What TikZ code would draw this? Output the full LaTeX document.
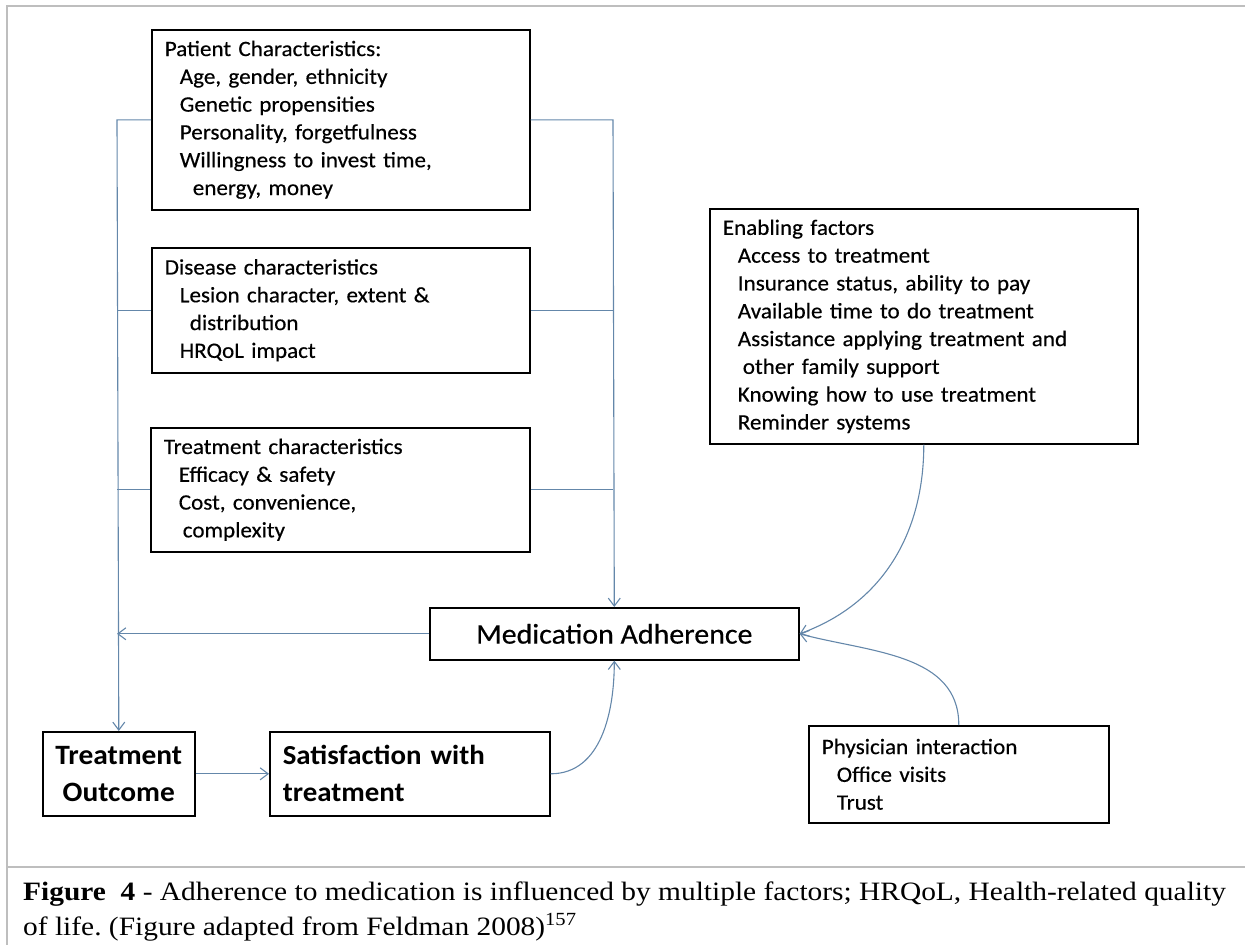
\documentclass[tikz,border=0pt]{standalone}
\usepackage{fontspec}
\setmainfont{Carlito}[FakeStretch=1.05,FakeBold=0.4]
\newfontfamily\bfsans{Carlito}[FakeStretch=1.05,BoldFont=*-Bold]
\newfontfamily\capfont{Liberation Serif}[FakeStretch=1.11]
\usetikzlibrary{arrows.meta}
\definecolor{connc}{RGB}{100,135,170}
\definecolor{framec}{RGB}{190,190,190}
\tikzset{
  box/.style={draw=black, line width=1.6pt, rectangle, inner sep=0pt, anchor=north west},
  txtbox/.style={box, align=left, inner xsep=13pt, font=\fontsize{22}{27.8}\selectfont},
  conn/.style={draw=connc, line width=1.1pt},
  arr/.style={conn, -{Straight Barb[length=8pt,width=12pt]}},
  frameline/.style={draw=framec, line width=1.6pt}
}
\newcommand{\ind}{\hspace*{15pt}}
\begin{document}
\frenchspacing
\begin{tikzpicture}[x=1pt,y=-1pt]
\useasboundingbox (0,0) rectangle (1245,945);
% frame
\draw[frameline] (7,950) -- (7,6) -- (1250,6);
\draw[frameline] (7,867) -- (1250,867);

% boxes
\node[txtbox, minimum width=378pt, minimum height=180pt, text width=352pt] (pat) at (151,29)
 {Patient Characteristics:\\\ind Age, gender, ethnicity\\\ind Genetic propensities\\\ind Personality, forgetfulness\\\ind Willingness to invest time,\\\ind\hspace*{13pt}energy, money};
\node[txtbox, minimum width=378pt, minimum height=125pt, text width=352pt] (dis) at (151,247)
 {Disease characteristics\\\ind Lesion character, extent \&\\\ind\hspace*{10pt}distribution\\\ind HRQoL impact};
\node[txtbox, minimum width=379pt, minimum height=124pt, text width=353pt] (trt) at (150,427)
 {Treatment characteristics\\\ind Efficacy \& safety\\\ind Cost, convenience,\\\ind\hspace*{4pt}complexity};
\node[txtbox, minimum width=428pt, minimum height=235pt, text width=402pt] (enab) at (709,208)
 {Enabling factors\\\ind Access to treatment\\\ind Insurance status, ability to pay\\\ind Available time to do treatment\\\ind Assistance applying treatment and\\\ind\hspace*{5pt}other family support\\\ind Knowing how to use treatment\\\ind Reminder systems};
\node[txtbox, minimum width=300pt, minimum height=97pt, text width=274pt] (phys) at (808,725)
 {Physician interaction\\\ind Office visits\\\ind Trust};
\node[box, minimum width=369pt, minimum height=52pt, font=\fontsize{28.5}{30}\selectfont] (ma) at (429,607)
 {Medication Adherence};
\node[box, minimum width=152pt, minimum height=84pt, align=center, font=\bfsans\bfseries\fontsize{28}{37}\selectfont] (outc) at (42,731)
 {Treatment\\Outcome};
\node[box, minimum width=280pt, minimum height=84pt, align=left, inner xsep=13pt, text width=254pt, font=\bfsans\bfseries\fontsize{27.5}{37}\selectfont] (sat) at (269,731)
 {Satisfaction with\\treatment};

% connectors
\coordinate (lx) at (117,0);
\coordinate (rx) at (613,0);
\draw[arr] (pat.west) -- (pat.west -| lx) -- (outc.north);
\draw[conn] (dis.west) -- (dis.west -| lx);
\draw[conn] (trt.west) -- (trt.west -| lx);
\draw[arr] (pat.east) -- (pat.east -| rx) -- (ma.north);
\draw[conn] (dis.east) -- (dis.east -| rx);
\draw[conn] (trt.east) -- (trt.east -| rx);
\draw[arr] (ma.west) -- (ma.west -| lx);
\draw[arr] (outc.east) -- (sat.west);
\draw[arr] (sat.east) to[out=0,in=-90] (ma.south);
\draw[arr] (enab.south) to[out=-90,in=20] (ma.east);
\draw[arr] (phys.north) to[out=90,in=-15] (ma.east);

% caption
\node[anchor=base west, inner sep=0pt, font=\capfont\fontsize{26.5}{35}\selectfont] (cap1) at (23,900)
 {\textbf{Figure\ \ 4} - Adherence to medication is influenced by multiple factors; HRQoL, Health-related quality};
\node[anchor=base west, inner sep=0pt, font=\capfont\fontsize{26.5}{35}\selectfont] (cap2) at (23,935)
 {of life. (Figure adapted from Feldman 2008)\textsuperscript{157}};
\end{tikzpicture}
\end{document}
